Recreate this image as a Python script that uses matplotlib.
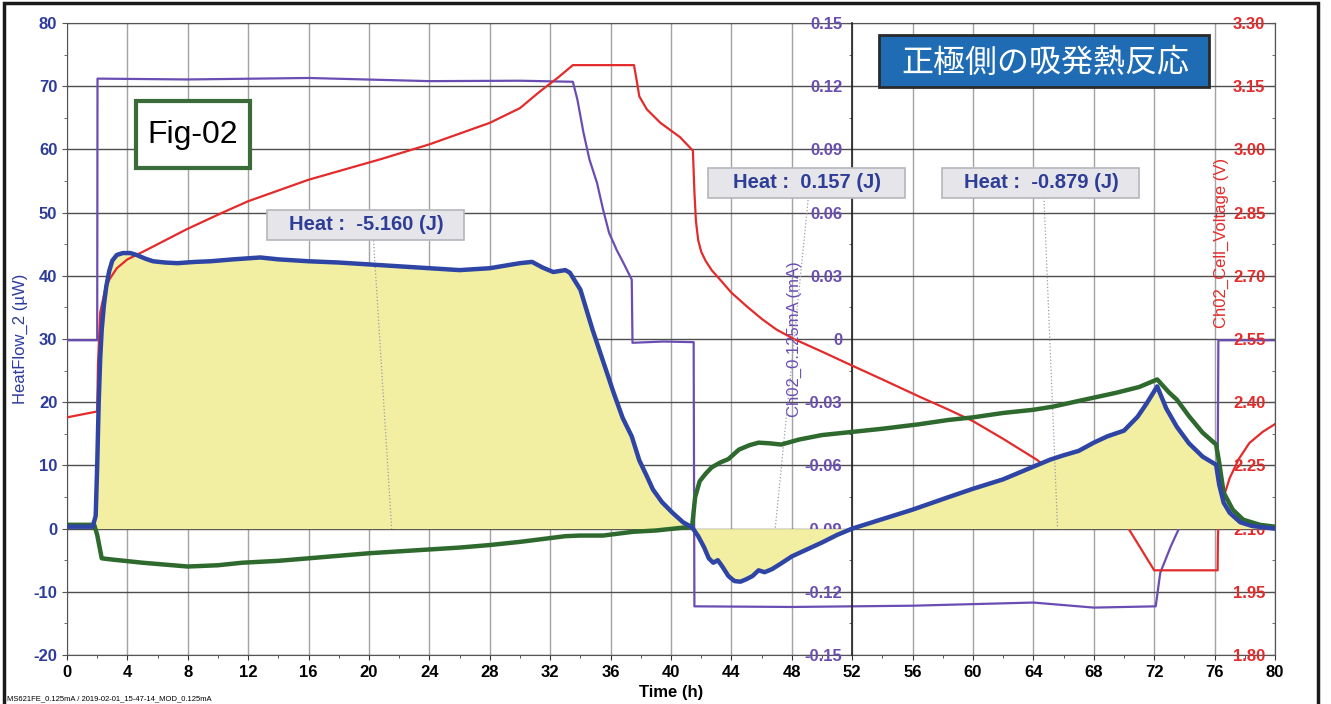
import numpy as np
import matplotlib
matplotlib.use("Agg")
import matplotlib.pyplot as plt
from matplotlib.patches import Rectangle
from matplotlib.ticker import MultipleLocator, FuncFormatter

plt.rcParams['font.family'] = ['Liberation Sans', 'DejaVu Sans']
plt.rcParams['axes.unicode_minus'] = False

# ---------------- data ----------------
# HeatFlow_2 (uW)  - thick blue
heat_t = [0, 1.7, 1.9, 2.0, 2.1, 2.2, 2.3, 2.45, 2.6, 2.8, 3.0, 3.3, 3.7, 4.2, 4.6, 5.2,
          5.7, 6.5, 7.3, 8.5, 9.5, 11, 12.8, 14, 16, 18, 20, 22, 24, 26, 28, 29, 30,
          30.8, 31.5, 32.2, 33.0, 33.3, 34.0, 34.8, 35.5, 36.2, 36.8, 37.4, 37.9, 38.4,
          38.8, 39.4, 40.1, 40.8, 41.4, 41.8, 42.2, 42.5, 42.8, 43.1, 43.4, 43.8, 44.2,
          44.6, 45.0, 45.4, 45.8, 46.2, 46.7, 47.3, 48, 49, 50, 51, 52, 54, 56, 58.4,
          60, 62, 64, 65.1, 66, 67, 68, 68.9, 70, 70.9, 71.5, 72.2, 72.8, 73.5, 74.3,
          75.2, 76.1, 76.3, 76.6, 77.0, 77.7, 78.5, 80]
heat_uW = [0.3, 0.3, 2, 10, 20, 27, 31.5, 35.5, 38.3, 40.8, 42.4, 43.3, 43.6, 43.6, 43.3,
           42.7, 42.3, 42.1, 42.0, 42.2, 42.3, 42.6, 42.9, 42.6, 42.3, 42.1, 41.8, 41.5,
           41.2, 40.9, 41.2, 41.6, 42.0, 42.2, 41.3, 40.6, 40.9, 40.5, 37.8, 31.5, 26.5,
           21.5, 17.5, 14.6, 10.8, 8.3, 6.2, 4.2, 2.5, 1.0, 0.2, -1.2, -3.0, -4.7, -5.4,
           -5.0, -6.0, -7.5, -8.3, -8.4, -8.0, -7.5, -6.6, -6.9, -6.4, -5.5, -4.4, -3.3,
           -2.2, -1.0, 0.0, 1.5, 3.0, 5.0, 6.3, 7.8, 9.8, 10.9, 11.6, 12.3, 13.6, 14.6,
           15.5, 17.7, 19.8, 22.5, 19.0, 16.1, 13.5, 11.4, 10.1, 7.0, 4.1, 2.5, 1.0, 0.4, 0.0]

# second heat-flow trace (uW) - thick green
green_t = [0, 1.8, 2.0, 2.3, 3, 5, 6.5, 8, 10, 11.6, 14, 16, 18, 20, 22, 24, 26, 28, 30,
           32, 33, 34, 35.5, 36.5, 37.5, 39, 41, 41.4, 41.6, 41.9, 42.3, 42.7, 43.3, 43.8,
           44.5, 45.2, 45.8, 46.5, 47.3, 48.5, 50, 52, 54, 56.4, 58.4, 60, 62, 64, 65.3,
           67, 69.5, 71, 72.2, 73, 73.5, 74.3, 75.2, 76.1, 76.3, 76.6, 77.2, 77.9, 79, 80]
green_uW = [0.6, 0.6, -1, -4.7, -4.9, -5.4, -5.7, -6.0, -5.8, -5.4, -5.1, -4.7, -4.3,
            -3.9, -3.6, -3.3, -3.0, -2.6, -2.1, -1.5, -1.2, -1.1, -1.1, -0.8, -0.5, -0.3,
            0.2, 0.4, 5.0, 7.5, 8.7, 9.7, 10.5, 11.0, 12.5, 13.2, 13.6, 13.5, 13.3, 14.1,
            14.8, 15.3, 15.8, 16.5, 17.2, 17.6, 18.3, 18.8, 19.3, 20.2, 21.5, 22.4, 23.6,
            21.5, 20.4, 17.8, 15.2, 13.3, 10.5, 5.7, 3.0, 1.4, 0.6, 0.3]

# Ch02_Cell_Voltage (V) - red
volt_t = [0, 2.0, 2.05, 2.2, 2.5, 2.8, 3.3, 4.0, 5.3, 7.9, 10.3, 12, 16, 20.7, 24, 28, 30,
          31.3, 32.5, 33.5, 37.55, 37.75, 37.9, 38.4, 39.3, 40.6, 41.45, 41.55, 41.65,
          41.8, 42.0, 42.3, 42.7, 43.2, 44, 45, 46, 47, 48.2, 50, 51.5, 54, 56.4, 58.4,
          60, 62, 64.2, 66, 68, 70.3, 72, 76.2, 76.22, 76.3, 76.6, 77, 77.6, 78.3, 79.2, 80]
volt_V = [2.364, 2.378, 2.49, 2.613, 2.663, 2.691, 2.718, 2.739, 2.762, 2.810, 2.850,
          2.877, 2.928, 2.976, 3.012, 3.063, 3.098, 3.137, 3.170, 3.200, 3.200, 3.159,
          3.126, 3.095, 3.063, 3.029, 2.997, 2.900, 2.830, 2.785, 2.757, 2.735, 2.713,
          2.693, 2.660, 2.628, 2.598, 2.572, 2.549, 2.520, 2.495, 2.454, 2.414, 2.382,
          2.355, 2.313, 2.264, 2.216, 2.163, 2.100, 2.001, 2.001, 2.080, 2.145, 2.175,
          2.220, 2.265, 2.303, 2.330, 2.348]

# Ch02_0.125mA (mA) - purple
curr_t = [0, 2.0, 2.02, 8, 16, 24, 30, 33.5, 33.8, 34.2, 34.6, 35.1, 35.5, 35.9, 36.4,
          36.9, 37.4, 37.45, 39.5, 41.5, 41.55, 48, 56, 64, 68, 72.1, 72.4, 73.1, 73.6,
          74.5, 75.5, 76.2, 76.25, 80]
curr_mA = [-0.0006, -0.0006, 0.1236, 0.1232, 0.1239, 0.1224, 0.1226, 0.1221, 0.1137,
           0.0981, 0.0852, 0.0741, 0.0615, 0.0504, 0.0423, 0.0354, 0.0282, -0.0018,
           -0.0012, -0.0015, -0.1269, -0.1272, -0.1266, -0.1251, -0.1275, -0.1269,
           -0.1110, -0.0984, -0.0906, -0.0810, -0.0735, -0.0690, -0.0006, -0.0006]

heat_labels = ["Heat :  -5.160 (J)", "Heat :  0.157 (J)", "Heat :  -0.879 (J)"]
label_x = [19.8, 49.0, 64.5]
label_y = [48.1, 54.7, 54.7]
leader_top = [(20.3, 45.6), (49.1, 52.5), (64.7, 52.4)]
leader_bot = [(21.5, 0.0), (46.9, 0.0), (65.6, 0.0)]

x_ticks = list(range(0, 81, 4))
title_text = "正極側の吸発熱反応"
fig_label = "Fig-02"
footer_text = "MS621FE_0.125mA / 2019-02-01_15-47-14_MOD_0.125mA"

# ---------------- style ----------------
BLUE = '#2f45a6'
GREEN = '#2e6a2e'
RED = '#e42b2b'
PURPLE = '#6a4db3'
FILL = '#f2efa2'
LBLUE = '#2d3c9c'
TICK_FS = 12

W, H = 1331, 704
fig = plt.figure(figsize=(W / 100, H / 100), dpi=100)
fig.patch.set_facecolor('white')

L, R, T, B = 67, 1275, 23, 655
ax = fig.add_axes([L / W, 1 - B / H, (R - L) / W, (B - T) / H])
ax.set_xlim(0, 80)
ax.set_ylim(-20, 80)
ax.set_xticks(x_ticks)
ax.xaxis.set_minor_locator(MultipleLocator(2))
ax.yaxis.set_major_locator(MultipleLocator(10))
ax.yaxis.set_minor_locator(MultipleLocator(5))
ax.set_axisbelow(True)
ax.grid(axis='x', which='major', color='#a3a3a3', lw=1.0)
ax.grid(axis='y', which='major', color='#4d4d4d', lw=1.0)
ax.tick_params(axis='x', which='both', labelsize=TICK_FS, colors='#333333', labelcolor='black')
ax.tick_params(axis='y', which='both', labelsize=TICK_FS, colors='#555555', labelcolor=LBLUE)
for lab in ax.get_xticklabels() + ax.get_yticklabels():
    lab.set_fontweight('bold')
ax.set_xlabel('Time (h)', fontsize=12, fontweight='bold')
ax.xaxis.set_label_coords(0.5, -0.047)
ax.set_ylabel('HeatFlow_2 (µW)', fontsize=12, color=LBLUE)
ax.yaxis.set_label_coords((28 - L) / (R - L), 0.5)
for s in ax.spines.values():
    s.set_color('#555555')

heat_t_a = np.array(heat_t)
heat_a = np.array(heat_uW)
ax.fill_between(heat_t_a, heat_a, 0, where=(heat_t_a >= 1.85) & (heat_t_a <= 41.4),
                color=FILL, lw=0, interpolate=True)

# middle current axis
ax2 = ax.twinx()
ax2.set_ylim(-0.15, 0.15)
ax2.yaxis.tick_left()
ax2.yaxis.set_label_position('left')
for k in ('right', 'top', 'bottom'):
    ax2.spines[k].set_visible(False)
ax2.spines['left'].set_position(('data', 52))
ax2.spines['left'].set_color('#222222')
ax2.spines['left'].set_linewidth(1.2)
ax2.yaxis.set_major_locator(MultipleLocator(0.03))
ax2.yaxis.set_minor_locator(MultipleLocator(0.015))
ax2.yaxis.set_major_formatter(FuncFormatter(lambda v, p: '0' if abs(v) < 1e-9 else f'{v:.2f}'))
ax2.tick_params(axis='y', which='both', labelsize=TICK_FS, colors='#555555', labelcolor=PURPLE)
for lab in ax2.get_yticklabels():
    lab.set_fontweight('bold')
ax2.set_ylabel('Ch02_0.125mA (mA)', fontsize=12, color=PURPLE)
ax2.yaxis.set_label_coords((802 - L) / (R - L), 0.5)
ax2.plot(curr_t, curr_mA, color=PURPLE, lw=1.6)

# right voltage axis (labels drawn inside)
ax3 = ax.twinx()
ax3.set_ylim(1.8, 3.3)
ax3.yaxis.tick_left()
ax3.yaxis.set_label_position('left')
for k in ('right', 'top', 'bottom'):
    ax3.spines[k].set_visible(False)
ax3.spines['left'].set_position(('axes', 1.0))
ax3.spines['left'].set_color('#555555')
ax3.yaxis.set_major_locator(MultipleLocator(0.15))
ax3.yaxis.set_minor_locator(MultipleLocator(0.075))
ax3.yaxis.set_major_formatter(FuncFormatter(lambda v, p: f'{v:.2f}'))
ax3.tick_params(axis='y', which='both', labelsize=TICK_FS, colors='#555555', labelcolor=RED)
for lab in ax3.get_yticklabels():
    lab.set_fontweight('bold')
ax3.set_ylabel('Ch02_Cell_Voltage (V)', fontsize=12, color=RED)
ax3.yaxis.set_label_coords((1229 - L) / (R - L), (B - 243) / (B - T))
ax3.plot(volt_t, volt_V, color=RED, lw=1.6)

# top layer: fills after 41.4 h, heat curves, annotations
ax4 = ax.twinx()
ax4.set_ylim(-20, 80)
ax4.axis('off')
ax4.fill_between(heat_t_a, heat_a, 0, where=(heat_t_a >= 41.4), color=FILL, lw=0,
                 interpolate=True)
for (x0, y0), (x1, y1) in zip(leader_top, leader_bot):
    ax4.plot([x0, x1], [y0, y1], color='#9a9aae', lw=0.9, ls=':')
ax4.plot(green_t, green_uW, color=GREEN, lw=3.2, solid_joinstyle='round')
ax4.plot(heat_t, heat_uW, color=BLUE, lw=3.2, solid_joinstyle='round')
box_w = 197 / ((R - L) / 80.0)
box_h = 30 / ((B - T) / 100.0)
for s, x, y in zip(heat_labels, label_x, label_y):
    ax4.add_patch(Rectangle((x - box_w / 2, y - box_h / 2), box_w, box_h,
                            facecolor='#e6e6ea', edgecolor='#b5b5bd', lw=1.2, zorder=5))
    ax4.text(x, y, s, ha='center', va='center', fontsize=14.5, fontweight='bold',
             color='#2e3d96', zorder=6)

ax.set_zorder(1)
ax2.set_zorder(2)
ax3.set_zorder(3)
ax4.set_zorder(4)


def fx(px):
    return px / W


def fy(py):
    return 1 - py / H


# title box
fig.patches.append(Rectangle((fx(879), fy(87)), (1209 - 879) / W, (87 - 35) / H,
                             transform=fig.transFigure, facecolor='#1f6cb5',
                             edgecolor='#2a2a2a', lw=2, zorder=10))
fig.text(fx(1045), fy(63), title_text, ha='center', va='center', fontsize=23,
         color='white', family=['Noto Sans CJK JP', 'DejaVu Sans'], zorder=11)

# Fig-02 box
fig.patches.append(Rectangle((fx(136), fy(168)), (250 - 136) / W, (168 - 101) / H,
                             transform=fig.transFigure, facecolor='white',
                             edgecolor='#3b6b38', lw=3, zorder=10))
fig.text(fx(193), fy(135), fig_label, ha='center', va='center', fontsize=23,
         color='black', zorder=11)

# outer frame
fig.patches.append(Rectangle((fx(4), -0.02), (1318 - 4) / W, fy(3) + 0.02,
                             transform=fig.transFigure, fill=False,
                             edgecolor='#1a1a1a', lw=2.5, zorder=12))

fig.text(fx(7), fy(699), footer_text, ha='left', va='center', fontsize=5.5)

fig.savefig('out.png', dpi=100)
